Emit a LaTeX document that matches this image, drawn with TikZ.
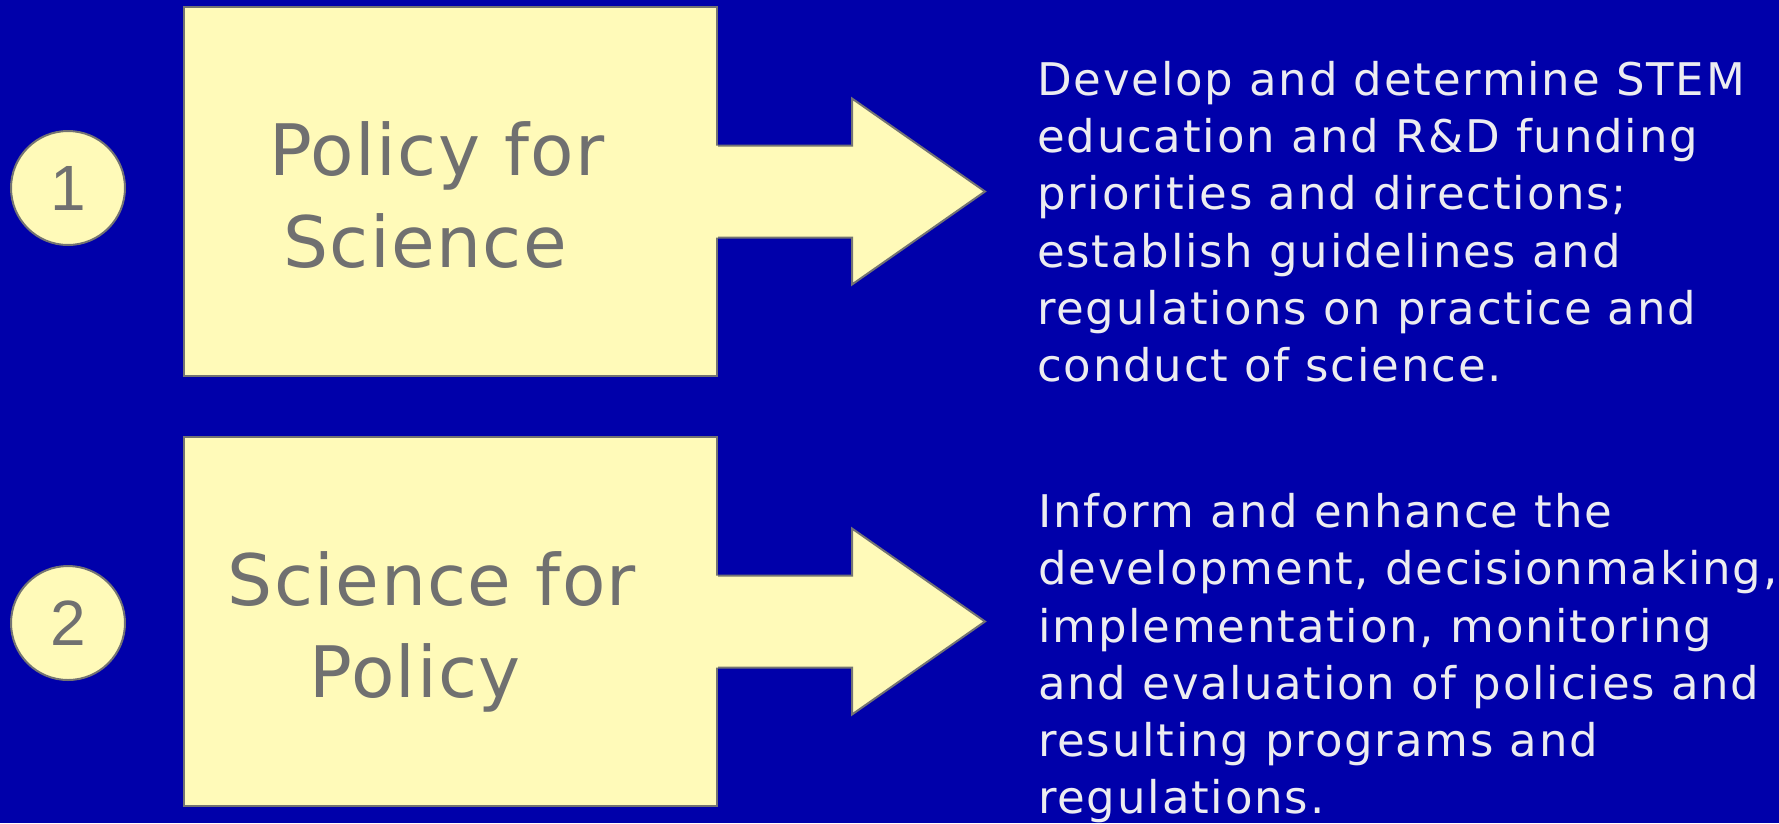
\documentclass[tikz,border=0pt]{standalone}
\usepackage{fontspec}
\setmainfont{DejaVu Sans}
\newfontfamily\digitfont{Liberation Sans}
\usetikzlibrary{calc}
\definecolor{bg}{RGB}{0,0,170}
\definecolor{boxfill}{RGB}{255,250,185}
\definecolor{edge}{RGB}{115,115,115}
\definecolor{graytext}{RGB}{112,112,112}
\definecolor{lighttext}{RGB}{236,236,240}
\tikzset{
  yellowbox/.style={draw=edge,line width=2pt,fill=boxfill,minimum width=533pt,minimum height=369pt,inner sep=0pt},
  numcircle/.style={circle,draw=edge,line width=2pt,fill=boxfill,minimum size=114pt,inner sep=0pt,text=graytext,font=\digitfont\fontsize{64}{64}\selectfont},
  boxtext/.style={anchor=north,align=center,inner sep=0pt,text=graytext,font=\fontsize{71}{92}\selectfont\addfontfeature{LetterSpace=2}},
  desctext/.style={anchor=north west,align=left,inner sep=0pt,text=lighttext,font=\fontsize{45}{57.3}\selectfont\addfontfeature{LetterSpace=4}},
  arrowfill/.style={fill=boxfill},
  arrowedge/.style={draw=edge,line width=2pt,line join=miter},
}
\begin{document}
\begin{tikzpicture}[x=1pt,y=-1pt]
\fill[bg] (0,0) rectangle (1779,823);
\useasboundingbox (0,0) rectangle (1779,823);

% row 1
\node[numcircle] (c1) at (68,188) {1};
\node[yellowbox] (b1) at (450.5,191.5) {};
\coordinate (t1) at ($(b1.east)+(267,0)$);
\fill[arrowfill] ($(b1.east)+(-3,-46)$) -- ($(b1.east)+(134,-46)$) -- ($(b1.east)+(134,-93)$) -- (t1) -- ($(b1.east)+(134,93)$) -- ($(b1.east)+(134,46)$) -- ($(b1.east)+(-3,46)$) -- cycle;
\draw[arrowedge] ($(b1.east)+(0,-46)$) -- ($(b1.east)+(134,-46)$) -- ($(b1.east)+(134,-93)$) -- (t1) -- ($(b1.east)+(134,93)$) -- ($(b1.east)+(134,46)$) -- ($(b1.east)+(0,46)$);
\node[boxtext] (l1) at (437,121) {Policy for\\Science\rule{24pt}{0pt}};
\node[desctext] (d1) at (1037,61) {Develop and determine STEM\\education and R\&D funding\\priorities and directions;\\establish guidelines and\\regulations on practice and\\conduct of science.};

% row 2
\node[numcircle] (c2) at (68,623) {2};
\node[yellowbox] (b2) at (450.5,621.5) {};
\coordinate (t2) at ($(b2.east)+(267,0)$);
\fill[arrowfill] ($(b2.east)+(-3,-46)$) -- ($(b2.east)+(134,-46)$) -- ($(b2.east)+(134,-93)$) -- (t2) -- ($(b2.east)+(134,93)$) -- ($(b2.east)+(134,46)$) -- ($(b2.east)+(-3,46)$) -- cycle;
\draw[arrowedge] ($(b2.east)+(0,-46)$) -- ($(b2.east)+(134,-46)$) -- ($(b2.east)+(134,-93)$) -- (t2) -- ($(b2.east)+(134,93)$) -- ($(b2.east)+(134,46)$) -- ($(b2.east)+(0,46)$);
\node[boxtext] (l2) at (432,551) {Science for\\Policy\rule{34pt}{0pt}};
\node[desctext] (d2) at (1038,493) {Inform and enhance the\\development, decisionmaking,\\implementation, monitoring\\and evaluation of policies and\\resulting programs and\\regulations.};
\end{tikzpicture}
\end{document}
